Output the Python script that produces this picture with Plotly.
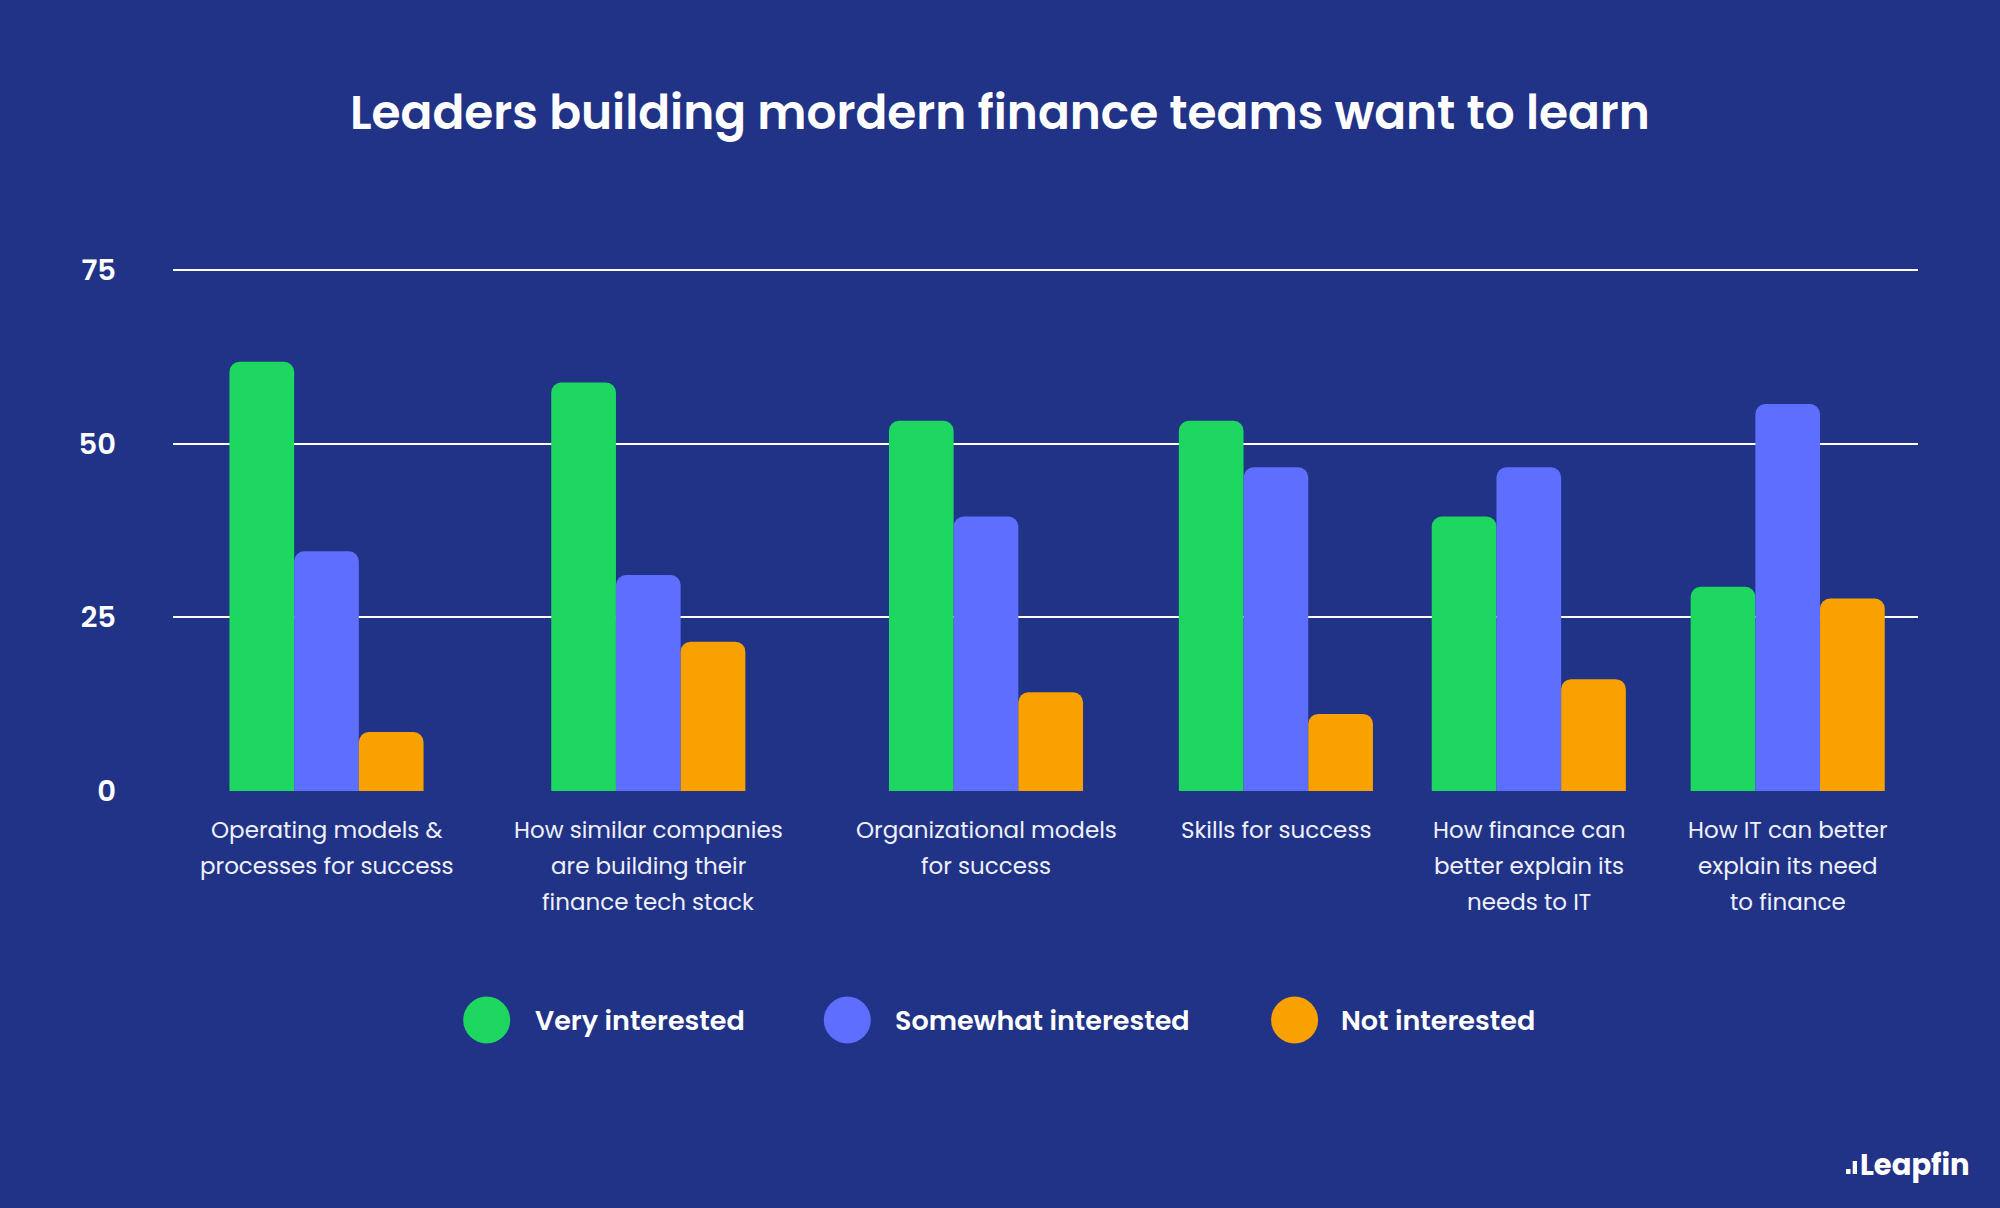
import plotly.graph_objects as go

# ---------------- data ----------------
categories = [
    "Operating models &<br>processes for success",
    "How similar companies<br>are building their<br>finance tech stack",
    "Organizational models<br>for success",
    "Skills for success",
    "How finance can<br>better explain its<br>needs to IT",
    "How IT can better<br>explain its need<br>to finance",
]
series_names = ["Very interested", "Somewhat interested", "Not interested"]
very_interested = [61.8, 58.8, 53.3, 53.3, 39.5, 29.4]
somewhat_interested = [34.5, 31.1, 39.5, 46.6, 46.6, 55.7]
not_interested = [8.5, 21.5, 14.2, 11.1, 16.1, 27.7]
y_tick_values = [0, 25, 50, 75]
title_text = "Leaders building mordern finance teams want to learn"

# ---------------- layout constants ----------------
W, H = 2000, 1208
L, R, T, B = 173, 82, 268, 417
PW, PH = W - L - R, H - T - B
group_x = [153.5, 475.3, 813.0, 1102.9, 1355.8, 1614.7]  # group centres in plot-area units
bar_w = 64.7
colors = ["#1ED760", "#5E6EFF", "#F9A100"]
bg = "#213387"
FONT = "Poppins, Inter, 'Open Sans', sans-serif"
Y_MAX = 75 * PH / 521.0  # a little headroom so the 75 gridline is drawn


def px(x):
    return (x - L) / PW


def py(y):
    return (H - B - y) / PH


fig = go.Figure()
series_values = [very_interested, somewhat_interested, not_interested]
offsets = [-1.5 * bar_w, -0.5 * bar_w, 0.5 * bar_w]
for name, vals, col, off in zip(series_names, series_values, colors, offsets):
    fig.add_trace(go.Bar(
        x=group_x, y=vals, name=name,
        width=[bar_w] * len(vals), offset=off,
        marker=dict(color=col, line=dict(width=0), cornerradius=10),
        showlegend=False,
    ))

shapes = []
annotations = []

# ---- category labels, one annotation per line (wider line spacing than ticks) ----
line_y = [830.4, 866.1, 901.8]
for gx, cat in zip(group_x, categories):
    for i, line in enumerate(cat.split("<br>")):
        annotations.append(dict(text=line, xref="x", yref="paper",
                                x=gx, y=py(line_y[i]), xanchor="center", yanchor="middle",
                                showarrow=False,
                                font=dict(family=FONT, size=23, color="#EEF0FA")))

# ---- manual legend with large circles ----
legend_cx = [486.7, 847.3, 1294.6]
legend_tx = [532.7, 893.3, 1339.0]
legend_cy = 1020
rad = 23.5
for name, col, cx, tx in zip(series_names, colors, legend_cx, legend_tx):
    shapes.append(dict(type="circle", xref="paper", yref="paper",
                       x0=px(cx - rad), x1=px(cx + rad),
                       y0=py(legend_cy + rad), y1=py(legend_cy - rad),
                       fillcolor=col, line=dict(width=0)))
    annotations.append(dict(text=name, xref="paper", yref="paper",
                            x=px(tx), y=py(legend_cy), xanchor="left", yanchor="middle",
                            showarrow=False,
                            font=dict(family=FONT, size=27, color="white", weight=600)))

# ---- logo ----
shapes.append(dict(type="rect", xref="paper", yref="paper",
                   x0=px(1846), x1=px(1850.5), y0=py(1174), y1=py(1169),
                   fillcolor="white", line=dict(width=0)))
shapes.append(dict(type="rect", xref="paper", yref="paper",
                   x0=px(1852.7), x1=px(1857), y0=py(1174), y1=py(1161),
                   fillcolor="white", line=dict(width=0)))
annotations.append(dict(text="Leapfin", xref="paper", yref="paper",
                        x=px(1858), y=py(1165), xanchor="left", yanchor="middle",
                        showarrow=False,
                        font=dict(family=FONT, size=29, color="white", weight=700)))

fig.update_layout(
    width=W, height=H,
    margin=dict(l=L, r=R, t=T, b=B, pad=0),
    paper_bgcolor=bg, plot_bgcolor=bg,
    barmode="overlay",
    title=dict(text=title_text, x=0.5, xanchor="center", xref="container",
               y=1 - 113 / H, yanchor="middle", yref="container",
               font=dict(family=FONT, size=47, color="white", weight=600)),
    xaxis=dict(range=[0, PW], tickmode="array", tickvals=group_x,
               showticklabels=False,
               showgrid=False, zeroline=False, showline=False, ticks=""),
    yaxis=dict(range=[0, Y_MAX], tickmode="array", tickvals=y_tick_values,
               showgrid=True, gridcolor="white", gridwidth=2,
               zeroline=False, showline=False, ticks="",
               ticklabelstandoff=56,
               tickfont=dict(family=FONT, size=29, color="white", weight=600)),
    shapes=shapes, annotations=annotations,
    showlegend=False,
)

fig.write_html("out.html")
